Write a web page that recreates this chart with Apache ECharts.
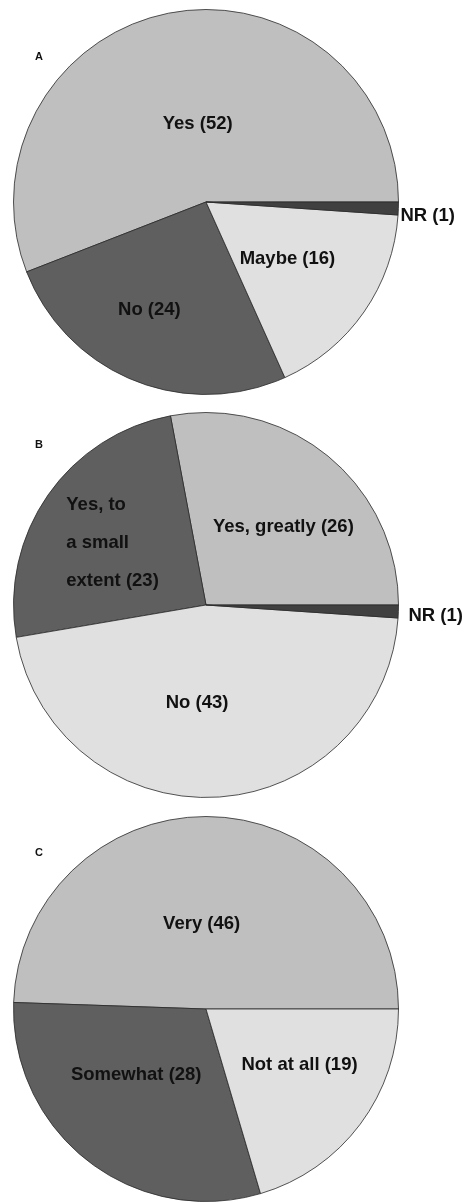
<!DOCTYPE html>
<html>
<head>
<meta charset="utf-8">
<script src="https://cdn.jsdelivr.net/npm/echarts@6/dist/echarts.min.js"></script>
<style>
html,body{margin:0;padding:0;background:#fff;}
#chart{width:464px;height:1203px;}
</style>
</head>
<body>
<div id="chart"></div>
<script>
const panelLetters = ['A', 'B', 'C'];
const catsA = ['Yes', 'No', 'Maybe', 'NR'];
const valsA = [52, 24, 16, 1];
const catsB = ['Yes, greatly', 'Yes, to\na small\nextent', 'No', 'NR'];
const valsB = [26, 23, 43, 1];
const catsC = ['Very', 'Somewhat', 'Not at all'];
const valsC = [46, 28, 19];

// styling / layout (kept separate from data)
const sliceColors = ['#bfbfbf', '#5f5f5f', '#e0e0e0', '#404040'];
const centersY = [202, 605, 1009];
const R = 192.5;
const CX = 206;
const labelNudges = [
  [[10, 19], [-19, 16], [0, 0], [-1, 7]],
  [[14, -2], [-12, -5], [-14, -1], [7, 4]],
  [[-6, 14], [-9, -13], [14, -4]]
];
const FONT = 'Liberation Sans, Arial, sans-serif';
const labelFont = { color: '#111', fontFamily: FONT, fontWeight: 'bold', fontSize: 18.5, lineHeight: 38 };

function labelText(p) {
  const txt = p.name + ' (' + p.value + ')';
  if (txt.indexOf('\n') >= 0) {
    return txt.split('\n').map(s => '{l|' + s + '}').join('\n');
  }
  return txt;
}

function makeSeries(cats, vals, cy, nudges) {
  return {
    type: 'pie',
    center: [CX, cy],
    radius: [0, R],
    startAngle: 0,
    clockwise: false,
    silent: true,
    animation: false,
    avoidLabelOverlap: false,
    itemStyle: { borderColor: '#2a2a2a', borderWidth: 0.8 },
    label: Object.assign({
      show: true,
      position: 'inside',
      formatter: labelText,
      rich: { l: Object.assign({ align: 'left' }, labelFont) }
    }, labelFont),
    labelLine: { show: false },
    data: cats.map((c, i) => {
      const d = { name: c, value: vals[i], itemStyle: { color: sliceColors[i] },
                  label: { offset: nudges[i] } };
      if (c === 'NR') {
        d.label = { position: 'outside', distanceToLabelLine: 3, offset: nudges[i] };
        d.labelLine = { show: false, length: 0, length2: 0 };
      }
      return d;
    })
  };
}

const chart = echarts.init(document.getElementById('chart'), null, { renderer: 'canvas' });
chart.setOption({
  backgroundColor: '#fff',
  animation: false,
  title: panelLetters.map((t, i) => ({
    text: t,
    left: 35,
    top: [51, 439, 847][i],
    padding: 0,
    textStyle: { fontFamily: FONT, fontWeight: 'bold', fontSize: 11, color: '#111' }
  })),
  series: [
    makeSeries(catsA, valsA, centersY[0], labelNudges[0]),
    makeSeries(catsB, valsB, centersY[1], labelNudges[1]),
    makeSeries(catsC, valsC, centersY[2], labelNudges[2])
  ]
});
</script>
</body>
</html>
